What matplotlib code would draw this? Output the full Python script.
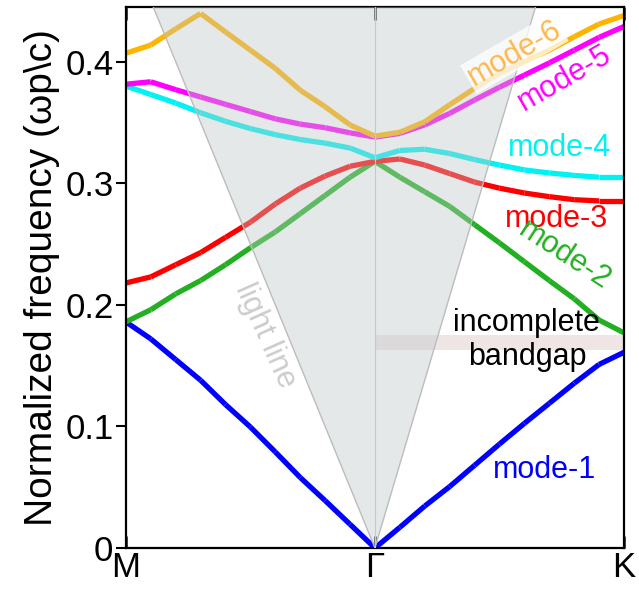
import numpy as np
import matplotlib.pyplot as plt
from matplotlib.collections import LineCollection

plt.rcParams['font.family'] = ['Liberation Sans', 'DejaVu Sans']

# k-path sampling: M (0) -> Gamma (10) -> K (20)
k = np.arange(21)
k_ticks = [0, 10, 20]
k_labels = ['M', 'Γ', 'K']

mode1 = [0.186, 0.172, 0.155, 0.138, 0.118, 0.0995, 0.079, 0.058, 0.039, 0.0195, 0.0,
         0.017, 0.0345, 0.0505, 0.068, 0.0855, 0.1025, 0.119, 0.1355, 0.151, 0.161]
mode2 = [0.186, 0.196, 0.209, 0.220, 0.233, 0.247, 0.260, 0.275, 0.290, 0.305, 0.318,
         0.305, 0.293, 0.281, 0.266, 0.251, 0.2355, 0.220, 0.205, 0.1875, 0.177]
mode3 = [0.218, 0.223, 0.233, 0.243, 0.2555, 0.268, 0.283, 0.296, 0.306, 0.314, 0.318,
         0.320, 0.315, 0.308, 0.301, 0.296, 0.292, 0.289, 0.2865, 0.2855, 0.2855]
mode4 = [0.380, 0.373, 0.366, 0.358, 0.351, 0.345, 0.340, 0.336, 0.333, 0.329, 0.321,
         0.327, 0.328, 0.3245, 0.3195, 0.315, 0.311, 0.3085, 0.3065, 0.305, 0.305]
mode5 = [0.3815, 0.3835, 0.377, 0.371, 0.365, 0.359, 0.353, 0.3487, 0.3457, 0.3415, 0.338,
         0.341, 0.348, 0.3575, 0.3685, 0.379, 0.389, 0.399, 0.4095, 0.420, 0.429]
mode6 = [0.407, 0.4137, 0.427, 0.4397, 0.4245, 0.4095, 0.3945, 0.3766, 0.363, 0.348, 0.3388,
         0.342, 0.3506, 0.3646, 0.378, 0.3903, 0.400, 0.4095, 0.4205, 0.431, 0.438]

modes = [mode1, mode2, mode3, mode4, mode5, mode6]
colors = ['#0000ff', '#22b022', '#ff0000', '#00f2f2', '#ff00ff', '#ffb400']

# light line values at the zone edges
light_M = 0.50
light_K = 0.69
gap_lo, gap_hi = 0.163, 0.175

fig = plt.figure(figsize=(6.39, 5.89), dpi=100)
ax = fig.add_axes([0.197, 0.0696, 0.7795, 0.9185])

# bands, drawn segment by segment
for y, c in zip(modes, colors):
    pts = np.column_stack([k, y])
    segs = np.stack([pts[:-1], pts[1:]], axis=1)
    ax.add_collection(LineCollection(segs, colors=c, linewidths=3.8,
                                     capstyle='butt', zorder=2))

# incomplete bandgap strip
ax.fill_between([10, 20], gap_lo, gap_hi, color='#d9bfbf', alpha=0.4, lw=0, zorder=1)

# light cone
light = np.interp(k, [0, 10, 20], [light_M, 0, light_K])
ax.fill_between(k, light, 1, color=(0.75, 0.78, 0.78), alpha=0.4, lw=0, zorder=3)
ax.plot(k, light, color='#bcbcbc', lw=1.0, zorder=3)
ax.axvline(10, color='#c8c8c8', lw=0.8, zorder=3)

fs = 22
ax.text(15.6, 0.407, 'mode-6', color='#ffb84d', fontsize=fs, rotation=30,
        ha='center', va='center', zorder=5,
        bbox=dict(facecolor='white', alpha=0.75, edgecolor='none', pad=1))
ax.text(17.6, 0.3865, 'mode-5', color='#ff00ff', fontsize=fs, rotation=30,
        ha='center', va='center', zorder=5)
ax.text(17.4, 0.329, 'mode-4', color='#00f2f2', fontsize=fs, ha='center', va='center', zorder=5)
ax.text(17.3, 0.271, 'mode-3', color='#ff0000', fontsize=fs, ha='center', va='center', zorder=5)
ax.text(17.6, 0.241, 'mode-2', color='#22b022', fontsize=fs, rotation=-33,
        ha='center', va='center', zorder=5)
ax.text(16.8, 0.064, 'mode-1', color='#0000ff', fontsize=fs, ha='center', va='center', zorder=5)
ax.text(16.1, 0.171, 'incomplete\nbandgap', color='black', fontsize=fs,
        ha='center', va='center', linespacing=1.15, zorder=5)
ax.text(5.6, 0.175, 'light line', color='#cccccc', fontsize=fs, rotation=-66,
        ha='center', va='center', zorder=5)

ax.set_xlim(0, 20)
ax.set_ylim(0, 0.445)
ax.set_xticks(k_ticks)
ax.set_xticklabels(k_labels, fontsize=25)
ax.set_yticks([0, 0.1, 0.2, 0.3, 0.4])
ax.set_yticklabels(['0', '0.1', '0.2', '0.3', '0.4'], fontsize=25)
ax.tick_params(axis='x', direction='in', top=True, length=9, width=2, color='#333333', pad=2)
ax.tick_params(axis='y', direction='out', length=7, width=1.5, pad=2)
ax.set_ylabel('Normalized frequency (ωp\\c)', fontsize=28, labelpad=4)
for s in ax.spines.values():
    s.set_linewidth(1.6)

fig.savefig('out.png', dpi=100)
